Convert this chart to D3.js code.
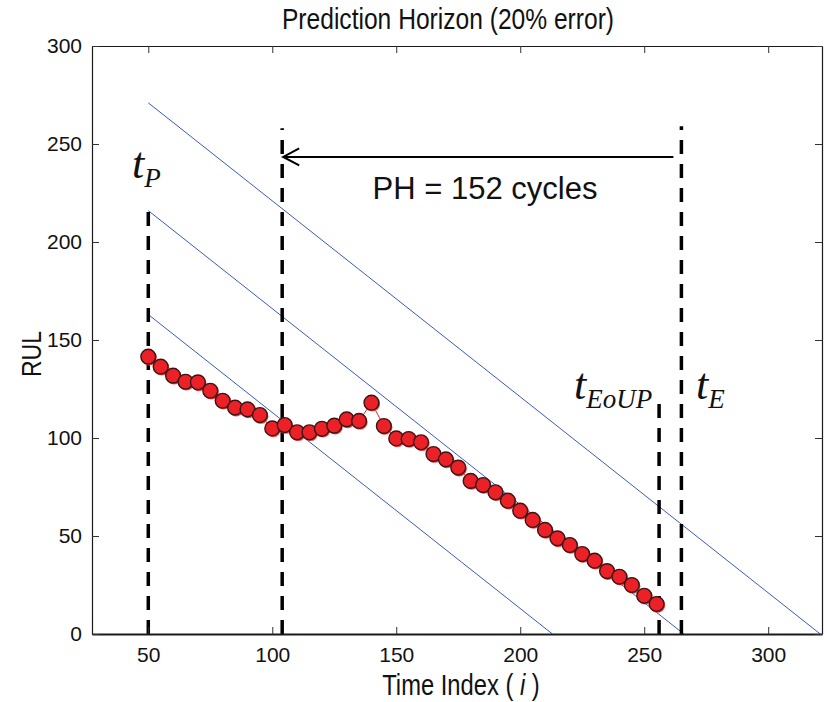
<!DOCTYPE html>
<html>
<head>
<meta charset="utf-8">
<script src="https://cdn.jsdelivr.net/npm/d3@7"></script>
<style>
  body { margin: 0; background: #fff; }
  svg text { font-family: "Liberation Sans", Arial, sans-serif; }
</style>
</head>
<body>
<script>
// time index of each RUL prediction
var times = [50, 55, 60, 65, 70, 75, 80, 85, 90, 95, 100, 105, 110, 115, 120, 125, 130, 135, 140, 145,
  150, 155, 160, 165, 170, 175, 180, 185, 190, 195, 200, 205, 210, 215, 220, 225, 230, 235, 240, 245, 250, 255];
// predicted RUL
var rul = [141.5, 136.4, 131.8, 128.7, 128.4, 124.1, 119.0, 115.5, 114.6, 111.7, 104.9, 106.6, 102.9, 102.9,
  104.7, 106.3, 109.5, 108.7, 118.0, 106.1, 99.8, 99.5, 97.8, 91.8, 89.1, 84.9, 78.1, 76.0, 72.3, 68.0,
  62.9, 58.2, 53.1, 48.8, 45.4, 40.8, 37.4, 32.1, 29.2, 25.0, 19.5, 15.3];
// true RUL and the +/- 20% bounds, as [t, rul] end points
var bounds = [
  [[50, 271], [321, 0]],
  [[50, 216], [266, 0]],
  [[50, 163], [213, 0]]
];
// dashed markers: time index and height
var markers = [
  { t: 50, top: 216 },
  { t: 104, top: 258 },
  { t: 256, top: 118 },
  { t: 265, top: 259 }
];
var arrowY = 243.4;
var xTicks = [50, 100, 150, 200, 250, 300];
var yTicks = [0, 50, 100, 150, 200, 250, 300];

var width = 827, height = 702;
var margin = { left: 92, right: 5, top: 46, bottom: 68 };

var svg = d3.select("body").append("svg")
  .attr("width", width).attr("height", height);

var x = d3.scaleLinear().domain([27.3, 321.7]).range([margin.left, width - margin.right]);
var y = d3.scaleLinear().domain([0, 300]).range([height - margin.bottom, margin.top]);

svg.append("defs").append("clipPath").attr("id", "plot")
  .append("rect")
  .attr("x", margin.left).attr("y", margin.top)
  .attr("width", width - margin.right - margin.left)
  .attr("height", height - margin.bottom - margin.top);

var plot = svg.append("g").attr("clip-path", "url(#plot)");

// bound lines
plot.selectAll(".bound").data(bounds).enter().append("line")
  .attr("class", "bound")
  .attr("x1", function(d) { return x(d[0][0]); })
  .attr("y1", function(d) { return y(d[0][1]); })
  .attr("x2", function(d) { return x(d[1][0]); })
  .attr("y2", function(d) { return y(d[1][1]); })
  .attr("stroke", "#3a5cb8")
  .attr("stroke-width", 1);

// dashed markers
plot.selectAll(".marker").data(markers).enter().append("line")
  .attr("class", "marker")
  .attr("x1", function(d) { return x(d.t); })
  .attr("x2", function(d) { return x(d.t); })
  .attr("y1", y(0))
  .attr("y2", function(d) { return y(d.top); })
  .attr("stroke", "#000")
  .attr("stroke-width", 3.5)
  .attr("stroke-dasharray", "14,10");

// prediction line and points
var pts = times.map(function(t, i) { return [t, rul[i]]; });
plot.append("path")
  .datum(pts)
  .attr("fill", "none")
  .attr("stroke", "#e8262c")
  .attr("stroke-width", 1)
  .attr("d", d3.line().x(function(d) { return x(d[0]); }).y(function(d) { return y(d[1]); }));

plot.selectAll(".shadow").data(pts).enter().append("circle")
  .attr("class", "shadow")
  .attr("cx", function(d) { return x(d[0]) + 1; })
  .attr("cy", function(d) { return y(d[1]) + 1.2; })
  .attr("r", 7.6)
  .attr("fill", "#f04a4a");

plot.selectAll(".pt").data(pts).enter().append("circle")
  .attr("class", "pt")
  .attr("cx", function(d) { return x(d[0]); })
  .attr("cy", function(d) { return y(d[1]); })
  .attr("r", 7.4)
  .attr("fill", "#ec2127")
  .attr("stroke", "#3b1414")
  .attr("stroke-width", 1.4);

// arrow
var ax1 = x(markers[1].t) + 1, ax2 = x(markers[3].t) - 8;
svg.append("line")
  .attr("x1", ax1).attr("x2", ax2)
  .attr("y1", y(arrowY)).attr("y2", y(arrowY))
  .attr("stroke", "#000").attr("stroke-width", 2);
svg.append("path")
  .attr("d", "M" + (ax1 + 16) + "," + (y(arrowY) - 8.5) + "L" + ax1 + "," + y(arrowY) + "L" + (ax1 + 16) + "," + (y(arrowY) + 8.5))
  .attr("fill", "none").attr("stroke", "#000").attr("stroke-width", 2);

// axes (box with inward ticks)
var xb = svg.append("g").attr("transform", "translate(0," + y(0) + ")")
  .call(d3.axisBottom(x).tickValues(xTicks).tickSizeInner(-7).tickSizeOuter(0).tickPadding(13));
var xt = svg.append("g").attr("transform", "translate(0," + y(300) + ")")
  .call(d3.axisTop(x).tickValues(xTicks).tickSizeInner(-7).tickSizeOuter(0).tickFormat(""));
var yl = svg.append("g").attr("transform", "translate(" + x.range()[0] + ",0)")
  .call(d3.axisLeft(y).tickValues(yTicks).tickSizeInner(-7).tickSizeOuter(0).tickPadding(10));
var yr = svg.append("g").attr("transform", "translate(" + x.range()[1] + ",0)")
  .call(d3.axisRight(y).tickValues(yTicks).tickSizeInner(-7).tickSizeOuter(0).tickFormat(""));

[xb, xt, yl, yr].forEach(function(g) {
  g.attr("font-size", 21);
  g.select(".domain").attr("stroke", "#1a1a1a").attr("stroke-width", 1.2);
  g.selectAll(".tick line").attr("stroke", "#333").attr("stroke-width", 1);
  g.selectAll(".tick text").attr("fill", "#111").attr("font-size", 21);
});
xb.select(".domain").attr("stroke-width", 2);

// narrow text: regular face squeezed horizontally
function narrow(tx, ty, size, rot) {
  return svg.append("text")
    .attr("transform", "translate(" + tx + "," + ty + ")" + (rot ? " rotate(" + rot + ")" : "") + " scale(0.82,1)")
    .attr("text-anchor", "middle")
    .style("font-size", size + "px").attr("fill", "#111");
}

narrow(448, 29, 30).text("Prediction Horizon (20% error)");

var xl = narrow(461, 695, 29);
xl.append("tspan").text("Time Index ( ");
xl.append("tspan").style("font-style", "italic").text("i");
xl.append("tspan").text(" )");

narrow(41, 354, 28, -90).text("RUL");

svg.append("text")
  .attr("x", 485).attr("y", 199)
  .attr("text-anchor", "middle")
  .style("font-size", "31px").attr("fill", "#111")
  .text("PH = 152 cycles");

// math labels
function tLabel(px, py, sub) {
  var t = svg.append("text")
    .attr("x", px).attr("y", py)
    .style("font-family", "'Liberation Serif', 'Times New Roman', serif")
    .style("font-style", "italic").attr("fill", "#111");
  t.append("tspan").style("font-size", "44px").text("t");
  t.append("tspan").style("font-size", "27px").attr("dy", 9).text(sub);
}
tLabel(132, 178, "P");
tLabel(574, 399, "EoUP");
tLabel(696, 399, "E");
</script>
</body>
</html>
